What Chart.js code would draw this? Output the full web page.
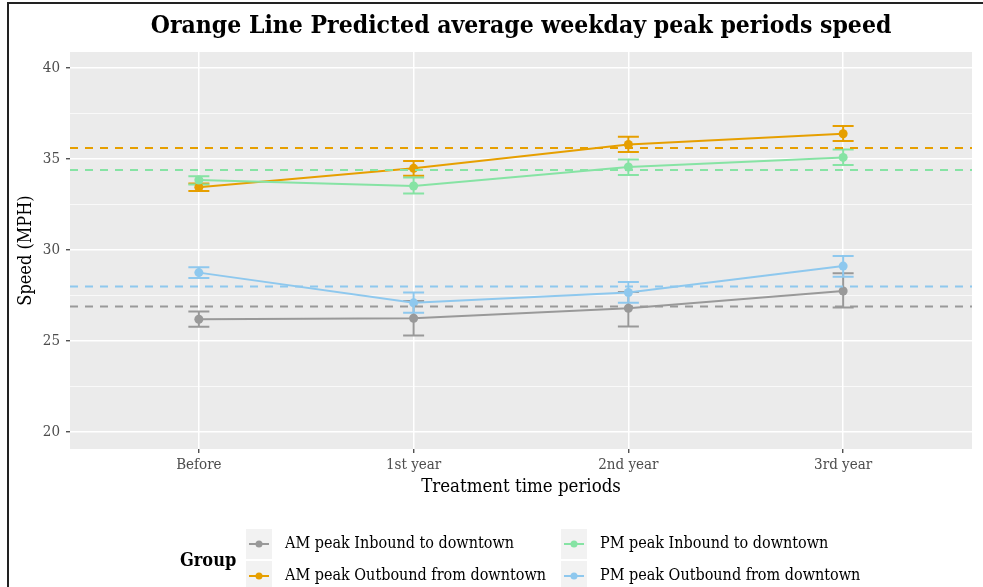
<!DOCTYPE html>
<html>
<head>
<meta charset="utf-8">
<script src="https://cdn.jsdelivr.net/npm/chart.js@4/dist/chart.umd.min.js"></script>
<style>
  html, body { margin: 0; padding: 0; background: #ffffff; }
  #wrap { width: 983px; height: 587px; position: relative; }
</style>
</head>
<body>
<div id="wrap"><canvas id="c" width="983" height="587"></canvas></div>
<script>
// Treatment periods on the x axis
const periods = ['Before', '1st year', '2nd year', '3rd year'];

// Group names (legend order)
const groups = [
  'AM peak Inbound to downtown',
  'AM peak Outbound from downtown',
  'PM peak Inbound to downtown',
  'PM peak Outbound from downtown'
];
const groupColors = ['#999999', '#E69F00', '#86E3A4', '#8EC8EE'];

// Predicted mean speed (MPH) per period, with confidence limits
const amInbound      = [26.20, 26.25, 26.80, 27.75];
const amInboundLow   = [25.78, 25.30, 25.80, 26.85];
const amInboundHigh  = [26.62, 27.20, 27.70, 28.72];

const amOutbound     = [33.45, 34.49, 35.80, 36.39];
const amOutboundLow  = [33.25, 34.08, 35.38, 35.99];
const amOutboundHigh = [33.66, 34.89, 36.23, 36.81];

const pmInbound      = [33.85, 33.52, 34.56, 35.09];
const pmInboundLow   = [33.60, 33.11, 34.12, 34.67];
const pmInboundHigh  = [34.05, 33.98, 34.98, 35.53];

const pmOutbound     = [28.76, 27.10, 27.67, 29.12];
const pmOutboundLow  = [28.46, 26.56, 27.10, 28.53];
const pmOutboundHigh = [29.05, 27.67, 28.24, 29.67];

// Overall average speed per group (dashed reference lines)
const groupAverage = [26.9, 35.6, 34.4, 28.0];

// Y axis tick values (major every 5, minor in between)
const yTicks = [20, 22.5, 25, 27.5, 30, 32.5, 35, 37.5, 40];

const means = [amInbound, amOutbound, pmInbound, pmOutbound];
const lows  = [amInboundLow, amOutboundLow, pmInboundLow, pmOutboundLow];
const highs = [amInboundHigh, amOutboundHigh, pmInboundHigh, pmOutboundHigh];

const SERIF = '"DejaVu Serif Condensed", "DejaVu Serif", serif';

const seriesSets = means.map((vals, g) => ({
  label: groups[g],
  data: vals.map((v, i) => ({ x: i, y: v })),
  borderColor: groupColors[g],
  backgroundColor: groupColors[g],
  pointBackgroundColor: groupColors[g],
  pointBorderWidth: 0,
  pointRadius: 4.5,
  borderWidth: 2,
  tension: 0,
  order: 4 - g
}));

const averageSets = groupAverage.map((v, g) => ({
  label: groups[g] + ' average',
  data: [{ x: -0.6, y: v }, { x: 3.6, y: v }],
  borderColor: groupColors[g],
  borderDash: [8, 7],
  borderWidth: 2,
  pointRadius: 0,
  tension: 0,
  order: 0
}));

// Panel background, frame, error bars, title and legend
const decor = {
  id: 'decor',
  beforeDraw(chart) {
    const { ctx, chartArea: a } = chart;
    ctx.save();
    ctx.fillStyle = '#ffffff';
    ctx.fillRect(0, 0, chart.width, chart.height);
    ctx.fillStyle = '#EBEBEB';
    ctx.fillRect(a.left, a.top, a.right - a.left, a.bottom - a.top);
    ctx.strokeStyle = '#222222';
    ctx.lineWidth = 2;
    ctx.beginPath();
    ctx.moveTo(8, chart.height);
    ctx.lineTo(8, 3);
    ctx.lineTo(chart.width, 3);
    ctx.stroke();
    ctx.restore();
  },
  beforeDatasetsDraw(chart) {
    const { ctx } = chart;
    const xs = chart.scales.x, ys = chart.scales.y;
    ctx.save();
    ctx.lineWidth = 2;
    means.forEach((vals, g) => {
      ctx.strokeStyle = groupColors[g];
      vals.forEach((v, i) => {
        const px = xs.getPixelForValue(i);
        const lo = ys.getPixelForValue(lows[g][i]);
        const hi = ys.getPixelForValue(highs[g][i]);
        ctx.beginPath();
        ctx.moveTo(px, lo); ctx.lineTo(px, hi);
        ctx.moveTo(px - 10.5, lo); ctx.lineTo(px + 10.5, lo);
        ctx.moveTo(px - 10.5, hi); ctx.lineTo(px + 10.5, hi);
        ctx.stroke();
      });
    });
    ctx.restore();
  },
  afterDraw(chart) {
    const { ctx, chartArea: a } = chart;
    ctx.save();
    // title
    ctx.fillStyle = '#000000';
    ctx.font = 'bold 24.5px ' + SERIF;
    ctx.textAlign = 'center';
    ctx.textBaseline = 'middle';
    ctx.fillText('Orange Line Predicted average weekday peak periods speed', (a.left + a.right) / 2, 27);

    // legend
    ctx.font = 'bold 18px ' + SERIF;
    ctx.textAlign = 'left';
    ctx.fillText('Group', 180, 561);
    const colX = [246, 561];
    const rowY = [544, 576];
    ctx.font = '16px ' + SERIF;
    groups.forEach((name, g) => {
      const bx = colX[Math.floor(g / 2)];
      const cy = rowY[g % 2];
      ctx.fillStyle = '#F2F2F2';
      ctx.fillRect(bx, cy - 15, 26, 30);
      ctx.strokeStyle = groupColors[g];
      ctx.lineWidth = 2;
      ctx.beginPath();
      ctx.moveTo(bx + 3, cy); ctx.lineTo(bx + 23, cy);
      ctx.stroke();
      ctx.fillStyle = groupColors[g];
      ctx.beginPath();
      ctx.arc(bx + 13, cy, 3.5, 0, Math.PI * 2);
      ctx.fill();
      ctx.fillStyle = '#000000';
      ctx.fillText(name, bx + 39, cy);
    });
    ctx.restore();
  }
};

new Chart(document.getElementById('c'), {
  type: 'line',
  data: { datasets: [...averageSets, ...seriesSets] },
  options: {
    responsive: false,
    animation: false,
    devicePixelRatio: 1,
    layout: { padding: { top: 52, right: 11, bottom: 88, left: 0 } },
    plugins: {
      legend: { display: false },
      tooltip: { enabled: false },
      title: { display: false }
    },
    scales: {
      x: {
        type: 'linear',
        min: -0.6,
        max: 3.6,
        afterBuildTicks(scale) { scale.ticks = periods.map((_, i) => ({ value: i })); },
        afterFit(scale) { scale.height = 50; },
        ticks: {
          autoSkip: false,
          maxRotation: 0,
          padding: 3,
          color: '#4D4D4D',
          font: { family: SERIF, size: 15 },
          callback: (v) => periods[v]
        },
        grid: { color: '#ffffff', lineWidth: 1.5, tickColor: '#333333', tickLength: 4, tickWidth: 1.2 },
        border: { display: false },
        title: {
          display: true,
          text: 'Treatment time periods',
          color: '#000000',
          font: { family: SERIF, size: 18.5 },
          padding: { top: 2, bottom: 1 }
        }
      },
      y: {
        min: 19.07,
        max: 40.88,
        afterBuildTicks(scale) { scale.ticks = yTicks.map(v => ({ value: v })); },
        afterFit(scale) { scale.width = 70; },
        ticks: {
          autoSkip: false,
          padding: 6,
          color: '#4D4D4D',
          font: { family: SERIF, size: 15 },
          callback: (v) => (v % 5 === 0 ? String(v) : '')
        },
        grid: {
          color: '#ffffff',
          lineWidth: (c) => (c.tick && c.tick.value % 5 === 0 ? 1.5 : 0.7),
          tickColor: (c) => (c.tick && c.tick.value % 5 === 0 ? '#333333' : 'rgba(0,0,0,0)'),
          tickLength: 4,
          tickWidth: 1.2
        },
        border: { display: false },
        title: {
          display: true,
          text: 'Speed (MPH)',
          color: '#000000',
          font: { family: SERIF, size: 18 },
          padding: { top: 16, bottom: 0 }
        }
      }
    }
  },
  plugins: [decor]
});
</script>
</body>
</html>
